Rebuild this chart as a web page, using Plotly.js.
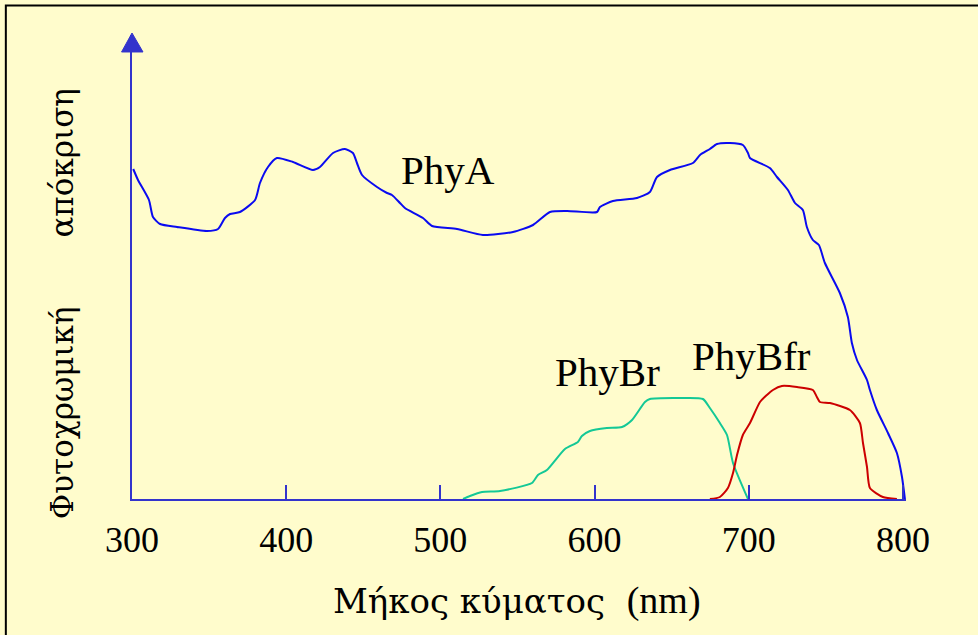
<!DOCTYPE html>
<html>
<head>
<meta charset="utf-8">
<script src="https://cdn.plot.ly/plotly-3.0.1.min.js"></script>
<style>
html,body{margin:0;padding:0;background:#FFFCCC;}
#chart{width:978px;height:635px;}
</style>
</head>
<body>
<div id="chart"></div>
<script>
var phyA_x = [300.8,303.9,311.0,313.6,318.2,329.2,348.6,355.8,360.3,363.6,370.0,379.8,383.0,388.2,394.0,404.4,417.4,421.9,430.4,438.1,443.3,445.9,449.2,458.9,465.4,468.6,473.8,477.0,488.7,494.6,510.8,527.6,547.1,560.1,571.1,582.1,601.6,603.5,611.9,627.5,635.9,640.5,648.9,663.8,668.4,674.8,679.4,687.8,696.2,699.5,700.8,713.7,718.3,725.4,730.0,735.1,737.7,741.6,745.5,749.4,759.1,764.3,766.9,770.2,776.7,778.6,783.1,790.3,796.1,799.4,801.3];
var phyA_y = [3.30,3.19,2.99,2.82,2.75,2.72,2.68,2.70,2.81,2.85,2.87,2.99,3.16,3.32,3.41,3.37,3.29,3.32,3.46,3.50,3.46,3.36,3.24,3.12,3.06,3.04,2.96,2.91,2.81,2.73,2.70,2.64,2.67,2.74,2.87,2.88,2.87,2.92,2.98,3.01,3.07,3.22,3.29,3.36,3.44,3.50,3.55,3.56,3.54,3.46,3.41,3.31,3.22,3.09,2.96,2.89,2.72,2.59,2.54,2.36,2.06,1.82,1.56,1.39,1.19,1.09,0.89,0.66,0.46,0.22,0.0];
var phyBr_x = [514.7,519.2,527.0,538.7,559.4,563.3,569.1,580.8,589.2,591.8,597.0,608.0,617.8,624.3,632.7,635.9,657.3,670.3,674.8,681.3,685.9,689.8,699.5];
var phyBr_y = [0.0,0.03,0.07,0.08,0.16,0.24,0.29,0.50,0.57,0.63,0.68,0.71,0.72,0.79,0.97,1.00,1.01,1.00,0.91,0.76,0.64,0.36,0.0];
var phyBfr_x = [674.8,681.3,686.5,689.8,692.4,696.2,700.8,707.3,711.8,715.7,721.5,731.3,741.6,744.2,746.2,752.7,765.6,772.1,774.1,776.7,778.6,787.0,796.1];
var phyBfr_y = [0.0,0.02,0.11,0.26,0.44,0.64,0.76,0.97,1.04,1.09,1.13,1.12,1.09,1.02,0.97,0.96,0.89,0.76,0.56,0.32,0.11,0.02,0.0];
var tickVals = [300,400,500,600,700,800];
var tickText = ['300','400','500','600','700','800'];
var seriesNames = ['PhyA','PhyBr','PhyBfr'];
var xTitle = 'Μήκος κύματος\u00a0\u00a0<span style="font-family:Liberation Serif;font-size:38px">(nm)</span>';
var yTitle = 'Φυτοχρωμική\u00a0\u00a0\u00a0\u00a0\u00a0\u00a0\u00a0απόκριση';

var serif = 'Liberation Serif, Times New Roman, serif';
var greekSerif = 'DejaVu Serif, serif';
var axisColor = '#3333CC';

var traces = [
  {x: phyA_x, y: phyA_y, name: seriesNames[0], mode: 'lines', line: {color: '#0A0AF0', width: 2, shape: 'spline', smoothing: 0.6}},
  {x: phyBr_x, y: phyBr_y, name: seriesNames[1], mode: 'lines', line: {color: '#14C896', width: 2, shape: 'spline', smoothing: 0.6}},
  {x: phyBfr_x, y: phyBfr_y, name: seriesNames[2], mode: 'lines', line: {color: '#CC0000', width: 2, shape: 'spline', smoothing: 0.6}}
];

var layout = {
  width: 978, height: 635,
  margin: {l: 132, r: 72, t: 35, b: 136},
  paper_bgcolor: '#FFFCCC',
  plot_bgcolor: '#FFFCCC',
  showlegend: false,
  xaxis: {
    range: [300, 802], showgrid: false, zeroline: false,
    showline: true, linecolor: axisColor, linewidth: 2,
    tickmode: 'array', tickvals: tickVals, ticktext: tickText,
    ticks: 'inside', ticklen: 14, tickwidth: 2, tickcolor: axisColor,
    ticklabelstandoff: 8,
    tickfont: {family: serif, size: 36, color: '#000'}
  },
  yaxis: {
    range: [0, 4.64], showgrid: false, zeroline: false,
    showline: true, linecolor: axisColor, linewidth: 2.5,
    showticklabels: false, ticks: ''
  },
  shapes: [
    {type: 'path', xref: 'paper', yref: 'paper', path: 'M -0.0135,0.9634 L 0.0,1.0043 L 0.0142,0.9634 Z', fillcolor: axisColor, line: {color: axisColor, width: 1}},
    {type: 'rect', xref: 'paper', yref: 'paper', x0: -0.163, x1: 1.12, y0: -0.33, y1: 1.0635, line: {color: '#000', width: 2}, fillcolor: 'rgba(0,0,0,0)', layer: 'below'}
  ],
  annotations: [
    {xref: 'paper', yref: 'paper', x: 0.497, y: -0.218, yanchor: 'middle', xanchor: 'center', showarrow: false, text: xTitle, font: {family: greekSerif, size: 34, color: '#000'}},
    {xref: 'paper', yref: 'paper', x: -0.0904, y: 0.42, xanchor: 'center', yanchor: 'middle', textangle: -90, showarrow: false, text: yTitle, font: {family: greekSerif, size: 31, color: '#000'}},
    {xref: 'x', yref: 'y', x: 505, y: 3.29, showarrow: false, text: seriesNames[0], font: {family: serif, size: 41, color: '#000'}},
    {xref: 'x', yref: 'y', x: 608.5, y: 1.27, showarrow: false, text: seriesNames[1], font: {family: serif, size: 41, color: '#000'}},
    {xref: 'x', yref: 'y', x: 702, y: 1.43, showarrow: false, text: seriesNames[2], font: {family: serif, size: 41, color: '#000'}}
  ]
};

Plotly.newPlot('chart', traces, layout, {displayModeBar: false, staticPlot: true});
</script>
</body>
</html>
